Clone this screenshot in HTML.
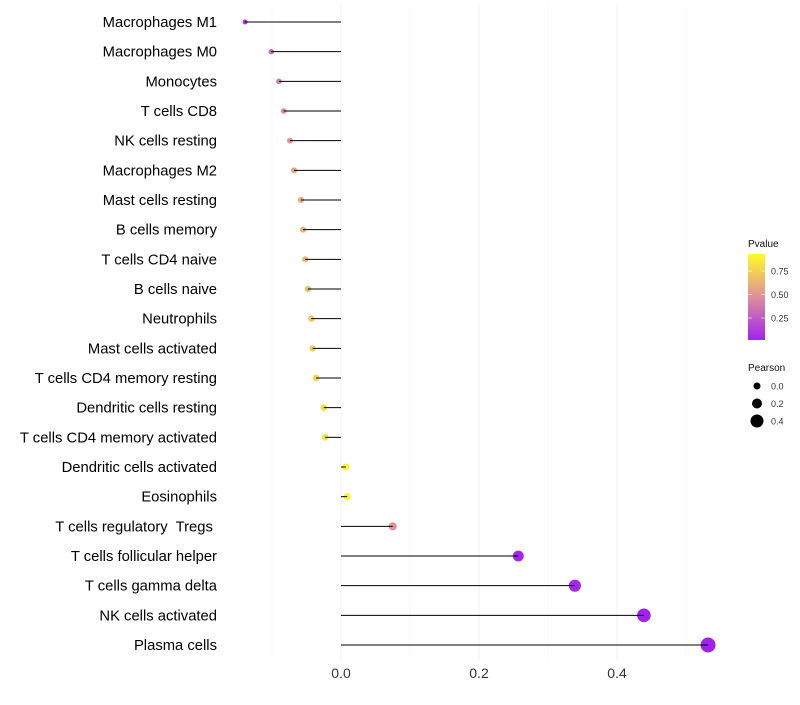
<!DOCTYPE html>
<html><head><meta charset="utf-8"><style>
body{margin:0;background:#fff;font-family:"Liberation Sans",sans-serif;}
svg text{font-family:"Liberation Sans",sans-serif;white-space:pre;}
</style></head><body>
<svg id="chart" width="800" height="700"></svg>
<script>
const categories=["Macrophages M1","Macrophages M0","Monocytes","T cells CD8","NK cells resting","Macrophages M2","Mast cells resting","B cells memory","T cells CD4 naive","B cells naive","Neutrophils","Mast cells activated","T cells CD4 memory resting","Dendritic cells resting","T cells CD4 memory activated","Dendritic cells activated","Eosinophils","T cells regulatory  Tregs ","T cells follicular helper","T cells gamma delta","NK cells activated","Plasma cells"];
const pearson=[-0.139,-0.101,-0.090,-0.083,-0.074,-0.068,-0.058,-0.055,-0.052,-0.048,-0.043,-0.041,-0.036,-0.025,-0.023,0.007,0.009,0.075,0.257,0.339,0.439,0.532];
const pvalue=[0.08,0.35,0.42,0.48,0.52,0.58,0.62,0.65,0.68,0.7,0.75,0.77,0.8,0.85,0.87,0.97,0.96,0.5,0.02,0.03,0.01,0.01];
const xTicks=[0.0,0.2,0.4];
const xMinor=[-0.1,0.1,0.3,0.5];
const pTicks=[0.25,0.5,0.75];
const sizeTicks=[0.0,0.2,0.4];

const NS="http://www.w3.org/2000/svg";
const svg=document.getElementById('chart');
const x=v=>341+v*690;
const y=i=>22+i*(623/21);
const r=v=>Math.max(1.2,3.5+7.5*v);
function lerp(a,b,t){return a.map((c,i)=>Math.round(c+(b[i]-c)*t));}
function col(p){const s=[[160,32,240],[224,144,154],[255,255,32]];
 const c=p<0.5?lerp(s[0],s[1],p/0.5):lerp(s[1],s[2],(p-0.5)/0.5);return `rgb(${c})`;}
function mk(tag,at,txt){const e=document.createElementNS(NS,tag);for(const k in at)e.setAttribute(k,at[k]);if(txt!=null)e.textContent=txt;svg.appendChild(e);return e;}

xMinor.forEach(v=>{const e=mk('line',{x1:x(v),x2:x(v),y1:5,y2:660,stroke:'#f7f7f7','stroke-width':0.6});

});
xTicks.forEach(v=>{const e=mk('line',{x1:x(v),x2:x(v),y1:5,y2:660,stroke:'#f0f0f0','stroke-width':1});


const t=mk('text',{x:x(v),y:678,'text-anchor':'middle','font-size':14,fill:'#333'},v.toFixed(1));

});
categories.forEach((c,i)=>{const t=mk('text',{x:217,y:y(i)+5,'text-anchor':'end','font-size':14.8,fill:'#000'},c);


const d=mk('circle',{cx:x(pearson[i]),cy:y(i),r:r(pearson[i]),fill:col(pvalue[i])});


const l=mk('line',{x1:x(0),x2:x(pearson[i]),y1:y(i),y2:y(i),stroke:'#000','stroke-width':1});

});

const lt=mk('text',{x:748,y:247,'font-size':10,fill:'#111'},'Pvalue');


const defs=mk('defs',{});
const g=document.createElementNS(NS,'linearGradient');g.setAttribute('id','pg');g.setAttribute('x1',0);g.setAttribute('y1',1);g.setAttribute('x2',0);g.setAttribute('y2',0);defs.appendChild(g);
[0,0.25,0.5,0.75,1].forEach(o=>{const s=document.createElementNS(NS,'stop');s.setAttribute('offset',o);s.setAttribute('stop-color',col(0.01+o*0.97));g.appendChild(s);});
const cb=mk('rect',{x:748,y:254,width:17,height:86,fill:'url(#pg)'});


const py=p=>341.5-p*94;
pTicks.forEach(p=>{const t=mk('text',{x:771,y:py(p)+3.5,'font-size':9,fill:'#333'},p.toFixed(2));


mk('line',{x1:748,x2:752,y1:py(p),y2:py(p),stroke:'#fff','stroke-width':0.6});
mk('line',{x1:761,x2:765,y1:py(p),y2:py(p),stroke:'#fff','stroke-width':0.6});});
const st=mk('text',{x:748,y:371,'font-size':10,fill:'#111'},'Pearson');


sizeTicks.forEach((v,i)=>{const cy=386+i*17.5;
const c=mk('circle',{cx:757,cy:cy,r:r(v),fill:'#000'});


const t=mk('text',{x:771,y:cy+3.5,'font-size':9,fill:'#333'},v.toFixed(1));

});
</script>
</body></html>
